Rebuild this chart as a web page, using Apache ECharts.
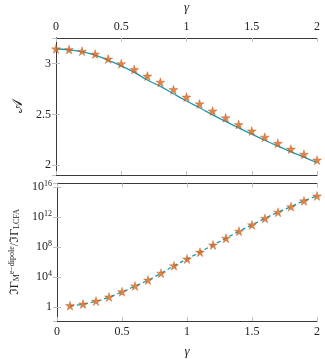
<!DOCTYPE html>
<html>
<head>
<meta charset="utf-8">
<script src="https://cdn.jsdelivr.net/npm/echarts@6/dist/echarts.min.js"></script>
<style>html,body{margin:0;padding:0;background:#fff}#c{width:325px;height:359px}</style>
</head>
<body>
<div id="c"></div>
<script>
// ---- data ----
var gammaTop = [0,0.1,0.2,0.3,0.4,0.5,0.6,0.7,0.8,0.9,1.0,1.1,1.2,1.3,1.4,1.5,1.6,1.7,1.8,1.9,2.0];
var aLine = [3.142,3.134,3.114,3.082,3.031,2.977,2.912,2.838,2.775,2.703,2.632,2.565,2.496,2.431,2.367,2.306,2.246,2.188,2.133,2.081,2.025];
var aStars = [3.143,3.137,3.120,3.092,3.044,2.997,2.940,2.876,2.816,2.743,2.670,2.603,2.533,2.467,2.400,2.337,2.276,2.216,2.159,2.108,2.051];
var gammaBot = [0.1,0.2,0.3,0.4,0.5,0.6,0.7,0.8,0.9,1.0,1.1,1.2,1.3,1.4,1.5,1.6,1.7,1.8,1.9,2.0];
var ratioStars = [1.45,2.4,5.9,21,105,630,3.8e3,3.2e4,3.2e5,2.5e6,2.1e7,1.9e8,1.5e9,1.3e10,9.3e10,6.9e11,4.6e12,2.5e13,1.5e14,6.9e14];
var ratioLine = [1.3,2.3,5.6,20,100,600,3.7e3,3.1e4,3.1e5,2.5e6,2.1e7,1.9e8,1.5e9,1.3e10,9.3e10,6.9e11,4.6e12,2.5e13,1.5e14,6.9e14];
var xTicks = [0,0.5,1,1.5,2];

function pairs(xs, ys){ return xs.map(function(x,i){return [x, ys[i]];}); }

var FONT = 'Liberation Serif';
var FRAME = '#3a3a3a';
var TICK = '#c0c0c0';
var STAR = 'path://M50,0 L61.2,34.5 L97.6,34.5 L68.2,55.9 L79.4,90.5 L50,69.1 L20.6,90.5 L31.8,55.9 L2.4,34.5 L38.8,34.5 Z';
var ORANGE = '#d9661c';
var TEAL = '#1f98aa';

function xAx(grid, pos, labels, name){
  return {
    type:'value', gridIndex:grid, position:pos, min:0, max:2, interval:0.5,
    axisLine:{show:true, onZero:false, lineStyle:{color:FRAME, width:1}},
    axisTick:{show:true, inside:true, length:4, lineStyle:{color:TICK}},
    axisLabel:{show:labels, color:'#222', fontFamily:FONT, fontSize:12, margin:5,
      formatter:function(v){return xTicks.indexOf(v)>=0 ? String(v) : '';}},
    splitLine:{show:false},
    name: name||'', nameLocation:'middle', nameGap: 24,
    nameTextStyle:{fontFamily:FONT, fontStyle:'italic', fontSize:13, color:'#222'}
  };
}
var supRich = {s:{fontSize:8, fontFamily:FONT, color:'#222', verticalAlign:'top', padding:[0,0,7,0]}, b:{fontSize:12, fontFamily:FONT, color:'#222'}};
function logLabel(v){
  var e = Math.round(Math.log10(v));
  if (Math.abs(Math.log10(v) - e) > 1e-6 || e % 4 !== 0) return '';
  if (e === 0) return '{b|1}';
  return '{b|10}{s|' + e + '}';
}

var option = {
  animation:false,
  grid:[
    {left:56, right:8, top:33.5, height:141.5, show:false},
    {left:56, right:8, top:183.3, height:141.4, show:false}
  ],
  xAxis:[
    xAx(0,'top',true,'γ'),
    xAx(0,'bottom',false),
    xAx(1,'bottom',true,'γ'),
    xAx(1,'top',false)
  ],
  yAxis:[
    {type:'value', gridIndex:0, position:'left', min:1.905, max:3.25, splitNumber:3,
     axisLine:{show:true, lineStyle:{color:FRAME}},
     axisTick:{show:true, inside:true, length:4, lineStyle:{color:TICK}},
     axisLabel:{color:'#222', fontFamily:FONT, fontSize:12, margin:5, showMinLabel:false, showMaxLabel:false,
       formatter:function(v){return (Math.abs(v*2-Math.round(v*2))<1e-6)? String(v):'';}},
     splitLine:{show:false},
     name:'𝒜', nameLocation:'middle', nameGap:30, nameRotate:90,
     nameTextStyle:{fontFamily:'DejaVu Serif', fontSize:14, color:'#222'}},
    {type:'value', gridIndex:0, position:'right', min:1.905, max:3.25, splitNumber:3,
     axisLine:{show:true, lineStyle:{color:FRAME}},
     axisTick:{show:true, inside:true, length:4, lineStyle:{color:TICK}},
     axisLabel:{show:false}, splitLine:{show:false}},
    {type:'log', logBase:10000, gridIndex:1, position:'left', min:0.0129, max:3.4e16,
     axisLine:{show:true, lineStyle:{color:FRAME}},
     axisTick:{show:true, inside:true, length:4, lineStyle:{color:TICK}},
     axisLabel:{color:'#222', margin:5, showMinLabel:false, showMaxLabel:false, formatter:logLabel, rich:supRich},
     splitLine:{show:false},
     name:'{b|ℑΓ}{sub|M}{sup|e−dipole}{b|/ℑΓ}{sub|LCFA}', nameLocation:'middle', nameGap:36, nameRotate:90,
     nameTextStyle:{fontFamily:FONT, fontSize:12, color:'#222',
       rich:{b:{fontSize:12, fontFamily:FONT, color:'#222'},
             sub:{fontSize:8, fontFamily:FONT, color:'#222', verticalAlign:'bottom', padding:[5,0,0,0]},
             sup:{fontSize:8, fontFamily:FONT, color:'#222', verticalAlign:'top', padding:[0,0,5,0]}}}},
    {type:'log', logBase:10000, gridIndex:1, position:'right', min:0.0129, max:3.4e16,
     axisLine:{show:true, lineStyle:{color:FRAME}},
     axisTick:{show:true, inside:true, length:4, lineStyle:{color:TICK}},
     axisLabel:{show:false}, splitLine:{show:false}}
  ],
  series:[
    {type:'line', xAxisIndex:0, yAxisIndex:0, data:pairs(gammaTop, aLine), smooth:true, showSymbol:false,
     lineStyle:{color:TEAL, width:1.3}, z:2},
    {type:'scatter', xAxisIndex:0, yAxisIndex:0, data:pairs(gammaTop, aStars), symbol:STAR, symbolSize:9,
     itemStyle:{color:ORANGE, borderColor:'#a9470c', borderWidth:0.4}, z:3},
    {type:'line', xAxisIndex:2, yAxisIndex:2, data:pairs(gammaBot, ratioLine), smooth:true, showSymbol:false,
     lineStyle:{color:TEAL, width:1.3, type:[4,3]}, z:2},
    {type:'scatter', xAxisIndex:2, yAxisIndex:2, data:pairs(gammaBot, ratioStars), symbol:STAR, symbolSize:9,
     itemStyle:{color:ORANGE, borderColor:'#a9470c', borderWidth:0.4}, z:3}
  ]
};
var chart = echarts.init(document.getElementById('c'), null, {renderer:'canvas'});
chart.setOption(option);
</script>
</body>
</html>
